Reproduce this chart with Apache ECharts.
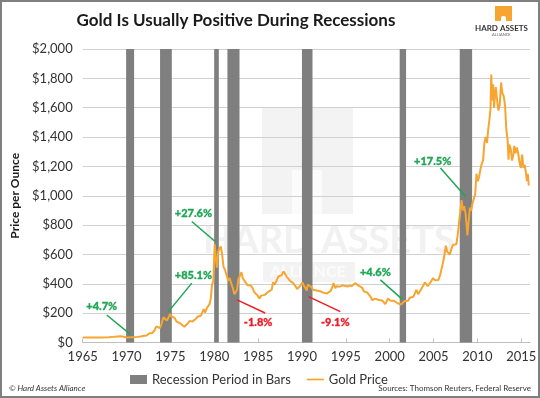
<!DOCTYPE html>
<html>
<head>
<meta charset="utf-8">
<script src="https://cdn.jsdelivr.net/npm/echarts@6/dist/echarts.min.js"></script>
<style>
  html, body { margin: 0; padding: 0; background: #fff; }
  #main { width: 540px; height: 398px; }
</style>
</head>
<body>
<div id="main"></div>
<script>
// recession periods (start / end as fractional years)
const recessionStart = [1969.95, 1973.82, 1979.99, 1981.5, 1990.0, 2001.14, 2007.99];
const recessionEnd = [1970.86, 1975.16, 1980.52, 1982.88, 1991.2, 2001.87, 2009.4];

// gold price, $ per ounce
const goldYears = [
  1965.0, 1966.0, 1967.0, 1968.0, 1968.3, 1968.6, 1969.0, 1969.3, 1969.7, 1970.0,
  1970.4, 1970.8, 1971.2, 1971.6, 1972.0, 1972.3, 1972.6, 1972.9, 1973.2, 1973.4,
  1973.6, 1973.8, 1974.0, 1974.2, 1974.4, 1974.6, 1974.8, 1974.95, 1975.1, 1975.3,
  1975.5, 1975.7, 1975.9, 1976.1, 1976.3, 1976.6, 1976.8, 1977.0, 1977.2, 1977.5,
  1977.7, 1977.9, 1978.1, 1978.3, 1978.5, 1978.8, 1978.95, 1979.2, 1979.45, 1979.6,
  1979.75, 1979.9, 1980.0, 1980.06, 1980.2, 1980.3, 1980.45, 1980.6, 1980.75, 1980.9,
  1981.05, 1981.25, 1981.4, 1981.6, 1981.75, 1981.95, 1982.1, 1982.3, 1982.45, 1982.6,
  1982.75, 1982.95, 1983.1, 1983.25, 1983.45, 1983.6, 1983.8, 1983.95, 1984.15, 1984.35,
  1984.55, 1984.75, 1984.95, 1985.15, 1985.35, 1985.55, 1985.75, 1985.95, 1986.15, 1986.35,
  1986.55, 1986.7, 1986.9, 1987.1, 1987.3, 1987.5, 1987.7, 1987.9, 1988.05, 1988.25,
  1988.45, 1988.65, 1988.85, 1989.0, 1989.25, 1989.45, 1989.65, 1989.85, 1990.05, 1990.2,
  1990.4, 1990.55, 1990.65, 1990.85, 1991.05, 1991.25, 1991.45, 1991.65, 1991.85, 1992.05,
  1992.25, 1992.45, 1992.65, 1992.85, 1993.05, 1993.25, 1993.45, 1993.6, 1993.8, 1993.95,
  1994.2, 1994.45, 1994.7, 1994.95, 1995.2, 1995.45, 1995.7, 1995.9, 1996.05, 1996.25,
  1996.45, 1996.65, 1996.85, 1997.05, 1997.25, 1997.45, 1997.65, 1997.85, 1998.0, 1998.2,
  1998.4, 1998.55, 1998.75, 1998.95, 1999.15, 1999.35, 1999.5, 1999.65, 1999.8, 1999.95,
  2000.1, 2000.3, 2000.5, 2000.7, 2000.9, 2001.1, 2001.3, 2001.5, 2001.7, 2001.9,
  2002.1, 2002.3, 2002.5, 2002.7, 2002.9, 2003.05, 2003.25, 2003.45, 2003.65, 2003.85,
  2004.0, 2004.2, 2004.35, 2004.55, 2004.75, 2004.95, 2005.15, 2005.35, 2005.55, 2005.75,
  2005.95, 2006.1, 2006.25, 2006.4, 2006.55, 2006.7, 2006.85, 2007.0, 2007.2, 2007.4,
  2007.6, 2007.75, 2007.9, 2008.05, 2008.2, 2008.35, 2008.5, 2008.65, 2008.8, 2008.86,
  2009.0, 2009.15, 2009.3, 2009.45, 2009.6, 2009.75, 2009.9, 2010.05, 2010.2, 2010.35,
  2010.5, 2010.65, 2010.8, 2010.95, 2011.1, 2011.25, 2011.4, 2011.5, 2011.58, 2011.7,
  2011.8, 2011.9, 2012.0, 2012.1, 2012.25, 2012.4, 2012.55, 2012.7, 2012.85, 2013.0,
  2013.15, 2013.3, 2013.45, 2013.55, 2013.65, 2013.8, 2013.95, 2014.1, 2014.2, 2014.35,
  2014.5, 2014.65, 2014.8, 2014.95, 2015.1, 2015.25, 2015.4, 2015.55, 2015.65, 2015.75,
  2015.86
];
const goldPrices = [
  35, 35, 35, 36, 39, 40, 42, 43, 40, 35,
  36, 37, 39, 42, 46, 49, 64, 63, 84, 110,
  120, 98, 130, 172, 160, 150, 172, 195, 180, 168,
  166, 143, 140, 132, 128, 108, 118, 133, 148, 143,
  150, 162, 176, 172, 185, 228, 205, 240, 260, 300,
  395, 420, 600, 670, 560, 510, 620, 640, 655, 600,
  520, 490, 460, 420, 440, 400, 375, 330, 320, 360,
  430, 440, 480, 440, 420, 425, 390, 385, 390, 375,
  345, 340, 320, 300, 320, 318, 325, 330, 345, 340,
  360, 410, 395, 405, 450, 445, 460, 485, 470, 450,
  450, 420, 415, 405, 385, 365, 360, 390, 410, 390,
  370, 355, 395, 385, 380, 360, 365, 355, 360, 350,
  340, 340, 345, 335, 330, 350, 375, 405, 370, 385,
  380, 385, 390, 385, 382, 388, 385, 388, 405, 395,
  388, 385, 375, 350, 345, 340, 325, 310, 290, 297,
  300, 295, 290, 290, 287, 280, 262, 256, 300, 292,
  285, 280, 285, 275, 268, 265, 260, 268, 283, 278,
  285, 305, 318, 312, 320, 360, 330, 350, 360, 390,
  410, 405, 385, 395, 420, 440, 425, 430, 427, 460,
  510, 550, 600, 660, 620, 615, 600, 630, 665, 660,
  670, 730, 810, 890, 970, 900, 930, 880, 780, 730,
  820, 920, 900, 950, 950, 1010, 1150, 1100, 1130, 1180,
  1220, 1240, 1360, 1400, 1360, 1460, 1530, 1600, 1826, 1650,
  1760, 1600, 1680, 1740, 1650, 1580, 1620, 1772, 1700, 1680,
  1620, 1450, 1380, 1246, 1350, 1320, 1240, 1280, 1340, 1290,
  1330, 1290, 1230, 1190, 1280, 1190, 1210, 1150, 1100, 1150,
  1070
];

// annotations: label text, label anchor, arrow tail, arrow head (data units)
const noteTexts = ['+4.7%', '+85.1%', '+27.6%', '-1.8%', '-9.1%', '+4.6%', '+17.5%'];
const noteLabelAt = [[1967.17, 245], [1977.63, 455], [1977.63, 883], [1985.0, 136], [1993.8, 136], [1998.37, 477], [2004.9, 1231]];
const noteTail = [[1967.74, 188], [1977.44, 405], [1977.44, 825], [1985.8, 202], [1994.37, 211], [1998.94, 427], [2005.79, 1190]];
const noteHead = [[1970.4, 58], [1974.77, 211], [1980.1, 689], [1982.6, 291], [1990.75, 313], [2001.42, 296], [2008.64, 996]];

const GREEN = '#1ea653';
const RED = '#ee1c25';
const FONT = 'Lato, "Open Sans", sans-serif';

const noteColor = t => (t.charAt(0) === '-' ? RED : GREEN);

const chart = echarts.init(document.getElementById('main'), null, { renderer: 'canvas' });

chart.setOption({
  animation: false,
  backgroundColor: '#fff',
  textStyle: { fontFamily: FONT },
  title: {
    text: 'Gold Is Usually Positive During Recessions',
    left: 231,
    top: 7,
    textAlign: 'center',
    textStyle: { fontFamily: FONT, fontSize: 17, fontWeight: 'bold', color: '#1a1a1a' }
  },
  grid: { left: 82.7, right: 10, top: 49, bottom: 55.4, containLabel: false },
  legend: {
    left: 125,
    top: 368,
    itemGap: 16,
    itemWidth: 17,
    itemHeight: 9,
    textStyle: { fontFamily: FONT, fontSize: 13, color: '#333' },
    data: [
      { name: 'Recession Period in Bars', icon: 'rect' },
      { name: 'Gold Price', icon: 'path://M0,0 L20,0 L20,2 L0,2 Z' }
    ]
  },
  xAxis: {
    type: 'value',
    min: 1965,
    max: 2016,
    interval: 5,
    axisLine: { show: true, lineStyle: { color: '#bfbfbf' } },
    axisTick: { show: true, length: 4, inside: true, lineStyle: { color: '#bfbfbf' } },
    splitLine: { show: false },
    axisLabel: {
      showMaxLabel: false,
      fontSize: 13,
      color: '#333',
      margin: 8,
      formatter: v => String(v)
    }
  },
  yAxis: {
    type: 'value',
    min: 0,
    max: 2000,
    interval: 200,
    name: 'Price per Ounce',
    nameLocation: 'middle',
    nameGap: 60,
    nameTextStyle: { fontFamily: FONT, fontSize: 12, fontWeight: 'bold', color: '#1a1a1a' },
    axisLine: { show: false },
    axisTick: { show: false },
    splitLine: { lineStyle: { color: '#d0d0d0', width: 1 } },
    axisLabel: {
      fontSize: 13,
      color: '#333',
      margin: 10,
      formatter: v => '$' + v.toLocaleString('en-US')
    }
  },
  graphic: [
    // faint watermark
    { type: 'rect', z: -1, silent: true, shape: { x: 262, y: 108, width: 91, height: 106 }, style: { fill: '#f3f3f3' } },
    { type: 'rect', z: -1, silent: true, shape: { x: 292, y: 170, width: 30, height: 44 }, style: { fill: '#fbfbfb' } },
    { type: 'text', z: -1, silent: true, left: 203, top: 222, style: { text: 'HARD ASSETS', font: 'bold 38px ' + FONT, fill: '#f1f1f1' } },
    { type: 'rect', z: -1, silent: true, shape: { x: 263, y: 262, width: 92, height: 20 }, style: { fill: '#f3f3f3' } },
    { type: 'text', z: -1, silent: true, left: 270, top: 264, style: { text: 'ALLIANCE', font: 'bold 16px ' + FONT, fill: '#fbfbfb' } },
    // logo
    { type: 'rect', shape: { x: 495, y: 6, width: 17, height: 15 }, style: { fill: '#f7a530' } },
    { type: 'rect', shape: { x: 501, y: 16, width: 5, height: 5, r: [2, 2, 0, 0] }, style: { fill: '#fff' } },
    { type: 'text', left: 475, top: 24, style: { text: 'HARD ASSETS', font: 'bold 8px ' + FONT, fill: '#333' } },
    { type: 'text', left: 492, top: 33, style: { text: 'ALLIANCE', font: '4px ' + FONT, fill: '#666' } },
    // footer
    { type: 'text', left: 9, top: 384, style: { text: '\u00a9 Hard Assets Alliance', font: 'italic 8px ' + FONT, fill: '#333' } },
    { type: 'text', right: 9, top: 384, style: { text: 'Sources: Thomson Reuters, Federal Reserve', font: '8px ' + FONT, fill: '#333' } },
    // frame
    { type: 'rect', z: 100, shape: { x: 1, y: 1, width: 538, height: 396 }, style: { fill: null, stroke: '#7f7f7f', lineWidth: 2 } }
  ],
  series: [
    {
      name: 'Recession Period in Bars',
      type: 'custom',
      silent: true,
      z: 1,
      itemStyle: { color: '#7f7f7f' },
      encode: { x: [0, 1] },
      data: recessionStart.map((s, i) => [s, recessionEnd[i]]),
      renderItem: (params, api) => {
        const p0 = api.coord([api.value(0), 0]);
        const p1 = api.coord([api.value(1), 0]);
        const cs = params.coordSys;
        return {
          type: 'rect',
          shape: { x: p0[0], y: cs.y, width: p1[0] - p0[0], height: cs.height },
          style: { fill: '#7f7f7f' }
        };
      }
    },
    {
      name: 'Gold Price',
      type: 'line',
      z: 3,
      symbol: 'none',
      color: '#f7a530',
      lineStyle: { color: '#f7a530', width: 2 },
      data: goldYears.map((y, i) => [y, goldPrices[i]]),
      markLine: {
        silent: true,
        symbol: ['none', 'arrow'],
        symbolSize: [0, 7],
        label: { show: false },
        data: noteTexts.map((t, i) => [
          { coord: noteTail[i], lineStyle: { color: noteColor(t), width: 1.5, type: 'solid' } },
          { coord: noteHead[i] }
        ])
      },
      markPoint: {
        silent: true,
        symbol: 'circle',
        symbolSize: 0,
        label: {
          show: true,
          position: 'inside',
          fontFamily: FONT,
          fontSize: 11,
          fontWeight: 900
        },
        data: noteTexts.map((t, i) => ({
          coord: noteLabelAt[i],
          label: {
            formatter: t,
            fontWeight: 900,
            color: noteColor(t),
            textBorderColor: noteColor(t),
            textBorderWidth: 0.3
          }
        }))
      }
    }
  ]
});
</script>
</body>
</html>
